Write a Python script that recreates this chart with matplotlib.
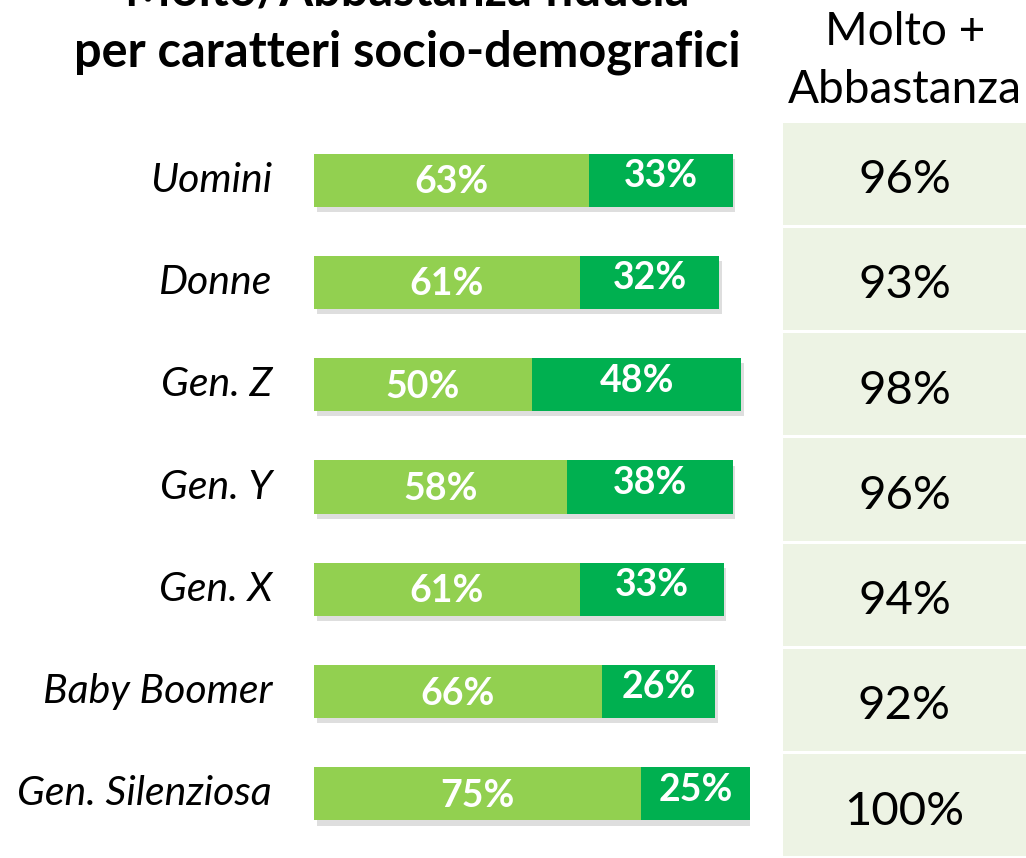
import numpy as np
import matplotlib.pyplot as plt

plt.rcParams['font.family'] = ['Lato', 'DejaVu Sans']

categories = ['Uomini', 'Donne', 'Gen. Z', 'Gen. Y', 'Gen. X', 'Baby Boomer', 'Gen. Silenziosa']
abbastanza = [63, 61, 50, 58, 61, 66, 75]
molto = [33, 32, 48, 38, 33, 26, 25]
totale = [96, 93, 98, 96, 94, 92, 100]

LIGHT = '#92D050'
DARK = '#00B050'
CELL = '#EDF3E4'

W, H = 1026, 858
fig = plt.figure(figsize=(W / 100, H / 100), dpi=100)

# bars
ax = fig.add_axes([314 / W, 13 / H, 436 / W, 716 / H])
y = np.arange(len(categories))
bh = 0.52
# soft shadow
ax.barh(y + 0.05, np.array(abbastanza) + np.array(molto), left=0.6, height=bh,
        color='#000000', alpha=0.13, zorder=1)
ax.barh(y, abbastanza, height=bh, color=LIGHT, zorder=2)
ax.barh(y, molto, left=abbastanza, height=bh, color=DARK, zorder=3)
for i in range(len(categories)):
    ax.text(abbastanza[i] / 2, y[i] + 0.02, f'{abbastanza[i]}%', ha='center', va='center',
            color='white', fontsize=27, fontweight='bold', zorder=4)
    ax.text(abbastanza[i] + molto[i] / 2, y[i] - 0.04, f'{molto[i]}%', ha='center',
            va='center', color='white', fontsize=27, fontweight='bold', zorder=4)
    ax.text(-9.6, y[i], categories[i], ha='right', va='center', fontsize=29.5,
            style='italic', color='black')
ax.set_xlim(0, 100)
ax.set_ylim(len(categories) - 0.5, -0.5)
ax.axis('off')

# table column
tx = fig.add_axes([783 / W, 0, (W - 783) / W, 737 / H])
tx.barh(y, [1] * len(y), height=0.97, color=CELL)
for i in range(len(y)):
    tx.text(0.5, y[i] + 0.06, f'{totale[i]}%', ha='center', va='center',
            fontsize=34, color='black')
tx.set_xlim(0, 1)
tx.set_ylim(len(y) - 0.5, -0.5)
tx.axis('off')

# headers (first title line is cut at the top edge, as in the reference)
fig.text(407 / W, 1 - 6 / H, 'Molto/Abbastanza fiducia', ha='center', va='baseline',
         fontsize=35, fontweight='bold')
fig.text(407 / W, 1 - 52 / H, 'per caratteri socio-demografici', ha='center',
         va='center', fontsize=35, fontweight='bold')
fig.text(905 / W, 1 - 32 / H, 'Molto +', ha='center', va='center', fontsize=33)
fig.text(905 / W, 1 - 90 / H, 'Abbastanza', ha='center', va='center', fontsize=33)

fig.savefig('out.png', dpi=100)
